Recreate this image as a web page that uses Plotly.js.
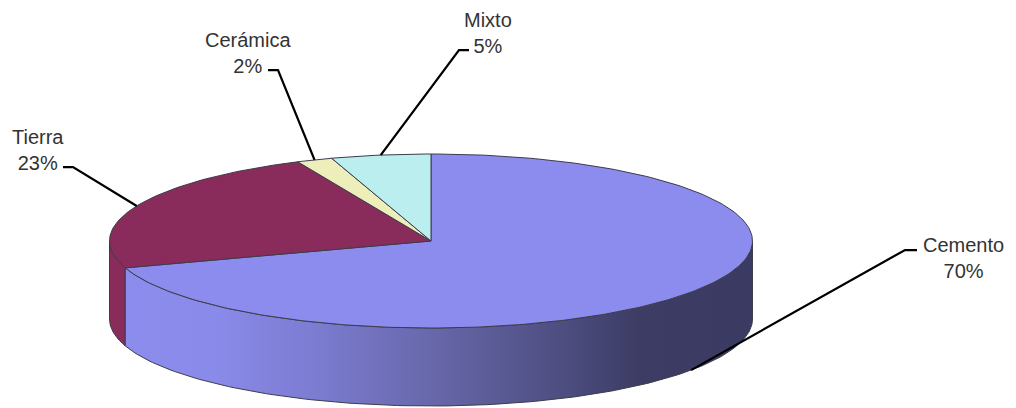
<!DOCTYPE html>
<html><head><meta charset="utf-8">
<script src="https://cdn.plot.ly/plotly-3.0.1.min.js"></script>
<style>html,body{margin:0;padding:0;background:#fff}#c{width:1016px;height:408px}</style>
</head><body><div id="c"></div>
<script>
const categories = ["Cemento", "Tierra", "Cerámica", "Mixto"];
const values = [70, 23.2, 1.8, 5];
const colors = ["#8c8cee", "#8a2c5b", "#eeeebb", "#bbeeee"];
const sideColors = {Tierra: "#8a2c5b"};

// Pie geometry in plot units (pixels)
const cx = 431, cy = 241, rx = 321.5, ry = 87, depth = 78;
// Label placement: label centre, elbow and stub end of the leader line
const labelX = [963, 38, 248, 488];
const labelY = [257.5, 149.5, 52.5, 32.5];
const elbowX = [905, 73, 278, 459];
const elbowY = [250, 167, 70, 50];
const stubX = [917, 63, 268, 469];

const total = values.reduce((a, b) => a + b, 0);
const rad = d => d * Math.PI / 180;
const px = t => cx + rx * Math.sin(rad(t));
const py = (t, dz) => cy - ry * Math.cos(rad(t)) + (dz || 0);
function arc(a, b, dz) {
  const xs = [], ys = [], n = Math.max(2, Math.ceil(Math.abs(b - a)));
  for (let i = 0; i <= n; i++) {
    const t = a + (b - a) * i / n;
    xs.push(px(t)); ys.push(py(t, dz));
  }
  return [xs, ys];
}
const bounds = [];
let acc = 0;
values.forEach(v => { bounds.push([acc / total * 360, (acc + v) / total * 360]); acc += v; });

const edge = {color: "#3c3c4c", width: 1};
function poly(xs, ys, extra) {
  return Object.assign({x: xs, y: ys, mode: "lines", fill: "toself", line: edge,
    hoverinfo: "skip", showlegend: false, type: "scatter"}, extra);
}
const traces = [];

// Tierra side: visible from the Cemento seam to the left extreme
{
  const a = bounds[0][1], b = 270;
  const [tx, ty] = arc(a, b, 0), [bx, by] = arc(b, a, depth);
  traces.push(poly(tx.concat(bx, [tx[0]]), ty.concat(by, [ty[0]]), {fillcolor: sideColors.Tierra}));
}
// Cemento side with horizontal shading: right extreme round to the seam
{
  const a = 90, b = bounds[0][1];
  const [tx, ty] = arc(a, b, 0), [bx, by] = arc(b, a, depth);
  traces.push(poly(tx.concat(bx, [tx[0]]), ty.concat(by, [ty[0]]), {
    fillgradient: {type: "horizontal", colorscale: [
      [0, "#8c8cee"], [0.14, "#8a8aea"], [0.3, "#7c7cd2"], [0.5, "#6666a8"],
      [0.7, "#4d4d80"], [0.82, "#3c3c64"], [1, "#3a3a62"]]}
  }));
}
// Top faces
categories.forEach((c, i) => {
  const [ax, ay] = arc(bounds[i][0], bounds[i][1], 0);
  traces.push(poly([cx].concat(ax, [cx]), [cy].concat(ay, [cy]), {fillcolor: colors[i]}));
});
// Leader lines: from the middle of each slice's outer edge to its label
categories.forEach((c, i) => {
  const mid = (bounds[i][0] + bounds[i][1]) / 2;
  const front = mid > 90 && mid < 270;
  traces.push({type: "scatter", mode: "lines",
    x: [px(mid), elbowX[i], stubX[i]],
    y: [py(mid, front ? depth : 0), elbowY[i], elbowY[i]],
    line: {color: "#000", width: 2.25}, hoverinfo: "skip", showlegend: false});
});

const annotations = categories.map((c, i) => ({
  x: labelX[i], y: labelY[i], xref: "x", yref: "y",
  text: c + "<br>" + Math.round(values[i] / total * 100) + "%",
  showarrow: false, xanchor: "center", yanchor: "middle", align: "center",
  font: {family: '"Liberation Sans", Arial, sans-serif', size: 20, color: "#333333"}
}));

const hidden = {visible: false, fixedrange: true, autorange: false};
Plotly.newPlot("c", traces, {
  width: 1016, height: 408, margin: {l: 0, r: 0, t: 0, b: 0},
  paper_bgcolor: "#fff", plot_bgcolor: "#fff", showlegend: false,
  xaxis: Object.assign({range: [0, 1016]}, hidden),
  yaxis: Object.assign({range: [408, 0]}, hidden),
  annotations: annotations
}, {displayModeBar: false, staticPlot: true});
</script></body></html>
